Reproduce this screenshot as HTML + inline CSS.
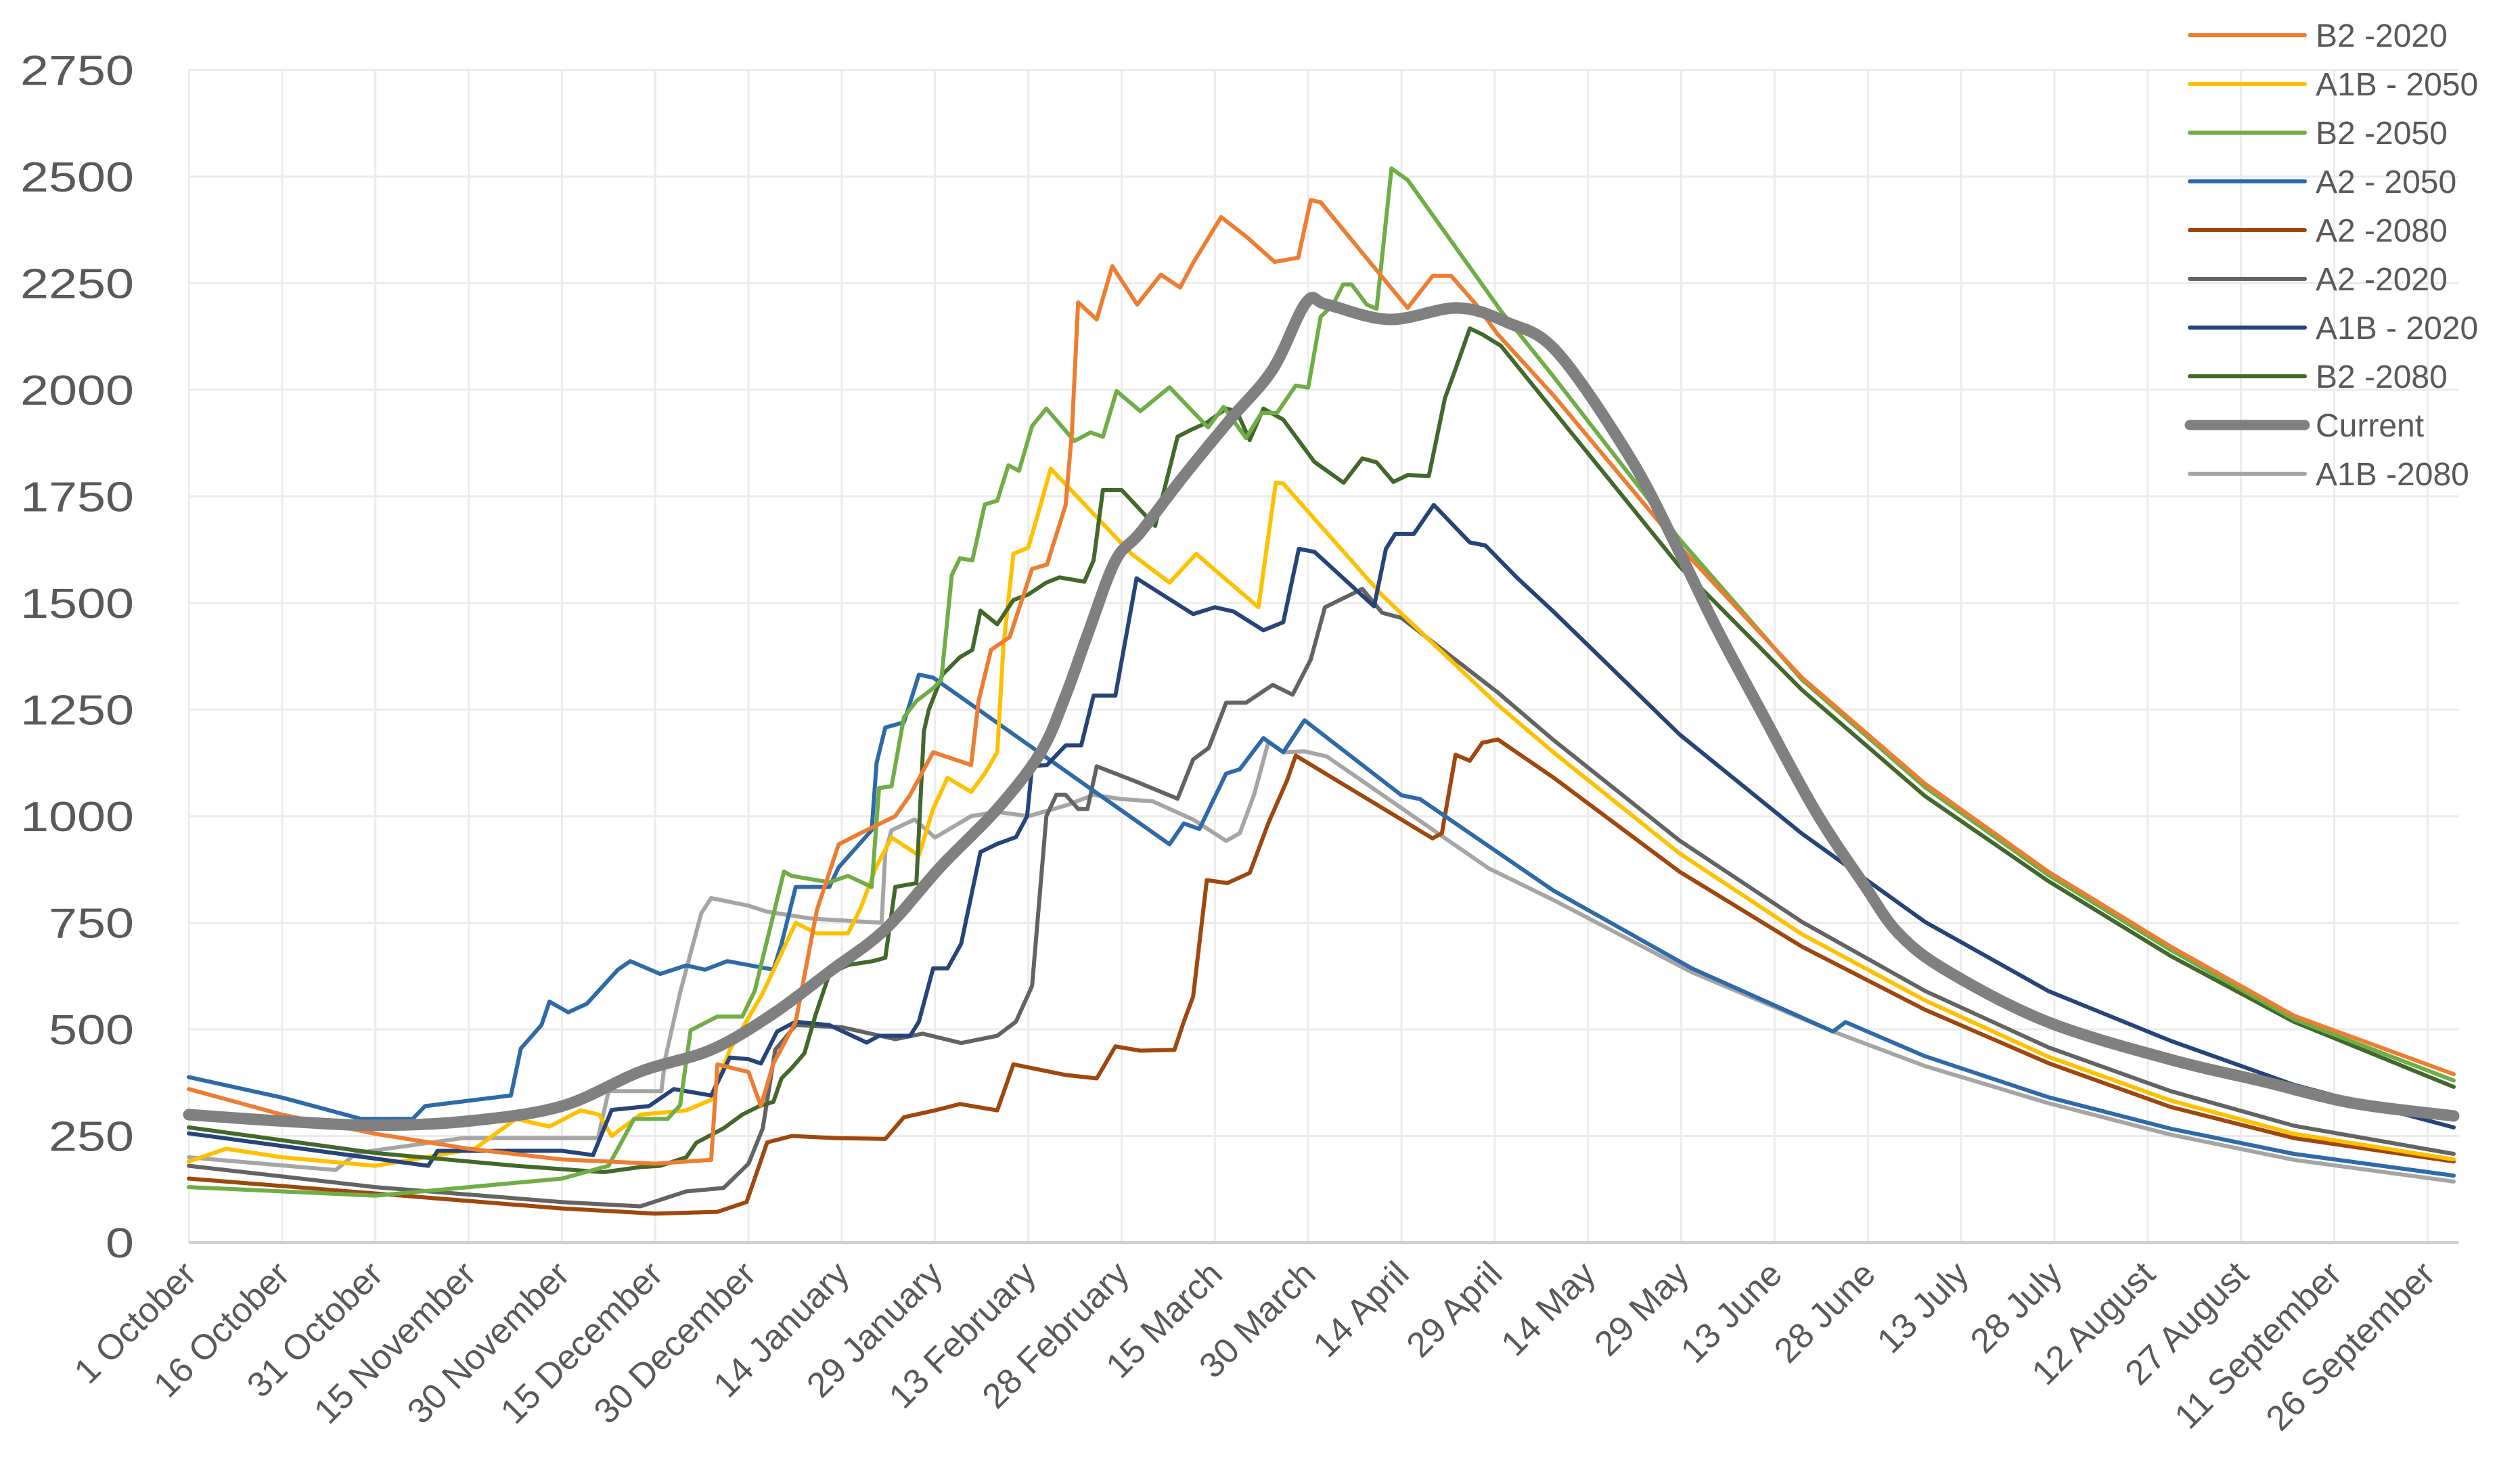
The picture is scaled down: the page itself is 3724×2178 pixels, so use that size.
<!DOCTYPE html>
<html><head><meta charset="utf-8"><style>
html,body{margin:0;padding:0;background:#fff;}
svg{display:block;font-family:"Liberation Sans",sans-serif;}
</style></head><body>
<svg id="chart" width="3724" height="2178" viewBox="0 0 3724 2178" xmlns="http://www.w3.org/2000/svg">
<rect width="3724" height="2178" fill="#fff"/>
<g id="grid"></g>
<g id="yticks"></g>
<g id="xticks"></g>
<g id="series"></g>
<g id="legend"></g>
</svg>
<script>
const yTicks = [0,250,500,750,1000,1250,1500,1750,2000,2250,2500,2750];
const xTickDays = [0,15,30,45,60,75,90,105,120,135,150,165,180,195,210,225,240,255,270,285,300,315,330,345,360];
const xTickLabels = ["1 October","16 October","31 October","15 November","30 November","15 December","30 December","14 January","29 January","13 February","28 February","15 March","30 March","14 April","29 April","14 May","29 May","13 June","28 June","13 July","28 July","12 August","27 August","11 September","26 September"];
const seriesNames = ["B2 -2020","A1B - 2050","B2 -2050","A2 - 2050","A2 -2080","A2 -2020","A1B - 2020","B2 -2080","Current","A1B -2080"];

const b2_2020_days = [0,15,30,45,60,75,84,85,90,92,94,97.6,101,104.5,108,113.6,116,119.7,125.8,127,129,132,135.6,138,141,142,143,146,148.5,152.5,156.3,159.4,161.6,166,170,174.6,178.4,180.4,182,196,200,203,207,210.5,219.5,239.7,259.4,279.2,299,318.7,338.5,364.2];
const b2_2020_vals = [360,300,255,220,195,185,194,418,400,320,420,518,780,934,960,1000,1050,1150,1120,1270,1390,1420,1580,1590,1730,1900,2205,2165,2290,2200,2270,2240,2300,2405,2360,2300,2310,2445,2440,2192,2267,2267,2200,2130,1986,1633,1325,1076,870,694,532,395];
const a1b_2050_days = [0,6,15,30,46,52.6,58,63,66,68,72.6,80,84,87,92.3,97.6,101,106,108,110.6,113,117.4,119.7,122,125.8,128,130,131,132.6,135,137,138.6,151.6,157.7,162,172,174.8,176,191.9,210.5,219.5,239.7,259.4,279.2,299,318.7,338.5,364.2];
const a1b_2050_vals = [190,220,200,180,220,290,272,310,300,250,300,310,335,452,585,750,725,725,783,883,950,908,1017,1090,1057,1100,1150,1400,1615,1630,1731,1815,1615,1548,1615,1490,1782,1780,1518,1261,1149,913,723,568,436,333,255,195];
const b2_2050_days = [0,30,45,60,67.5,71.6,77,79,80.7,85,89,91,95.7,96.9,103,106,109.8,111,113,115,117,119.7,121,122.7,124,126,128,130,131.8,133.5,135.6,137.9,142.4,145,147,149.2,153,157.7,163.9,166.4,170,172.5,175,178,180,182,184,185.6,187,189.4,191,193.4,196,211,219.5,239.7,259.4,279.2,299,318.7,338.5,364.2];
const b2_2050_vals = [130,110,130,150,180,290,290,322,498,530,530,590,870,860,845,860,834,1066,1070,1232,1270,1300,1320,1566,1605,1600,1731,1740,1823,1810,1915,1956,1880,1900,1890,1997,1950,2006,1912,1960,1887,1946,1946,2010,2005,2171,2200,2247,2247,2200,2190,2519,2492,2185,2030,1650,1320,1068,862,686,524,380];
const a2_2050_days = [0,15,27.7,36,38,51.8,53.4,56.7,58,61,64,69,71,75.8,80,83,86.6,94,95.3,97.6,103,104.5,109.8,110.6,112,115,117.4,119.7,157.7,160,162.5,166.8,169,172.8,176,179.4,195,198,219.5,241.7,264.4,266.4,279.2,299,318.7,338.5,364.2];
const a2_2050_vals = [388,340,290,290,320,345,455,510,565,540,560,640,660,630,650,640,660,640,700,834,834,880,967,1125,1208,1220,1332,1325,934,983,970,1100,1110,1183,1150,1225,1049,1040,825,643,495,517,437,341,267,208,157];
const a2_2080_days = [0,30,60,75,85,89.7,93,97,104,112,115,120,124,130,132.6,141,146,149,153,158.5,160,161.5,163.7,167,170.6,173.6,176.6,178,200,201.5,203.7,206,208,210.5,219.5,239.7,259.4,279.2,299,318.7,338.5,364.2];
const a2_2080_vals = [150,115,80,68,72,95,235,250,245,243,294,310,325,310,418,393,385,460,450,452,518,577,850,843,867,984,1084,1142,948,960,1144,1130,1172,1180,1090,870,694,546,421,318,245,190];
const a2_2020_days = [0,30,60,72.6,80,86,90,92.3,94.3,97.6,105,113.6,118,124.2,130,133,135.6,137.9,139.5,141,143,144.5,146,152,159,161.5,164,166.8,170,174.3,177.5,180.4,182.7,188.7,191.9,195,210.5,219.5,239.7,259.4,279.2,299,318.7,338.5,364.2];
const a2_2020_vals = [180,130,95,85,120,128,185,268,452,510,505,477,490,468,485,518,602,1000,1050,1050,1017,1017,1117,1083,1041,1133,1160,1266,1266,1308,1285,1367,1490,1533,1477,1465,1290,1178,943,752,590,458,355,274,208];
const a1b_2020_days = [0,38.5,40,60,65,68,74,78,84,87,90,92,94.6,97.6,103,109,111,116,117.4,119.7,122,124.2,127.3,130,133,134.8,135.6,138,141,143.5,145.5,149,152.4,161.5,165,168,172.8,176,178.5,181,190.6,192.5,194,197,200.2,206,208.5,213.6,219.5,239.7,259.4,279.2,299,318.7,338.5,364.2];
const a1b_2020_vals = [256,180,215,215,205,311,320,360,345,434,430,420,495,518,510,469,485,485,518,643,643,701,916,935,951,1000,1117,1120,1166,1166,1283,1283,1558,1474,1490,1480,1436,1455,1627,1620,1492,1627,1662,1662,1730,1642,1635,1559,1479,1192,959,752,590,473,370,270];
const b2_2080_days = [0,30,52.6,66.7,72.6,75.8,80,81.6,86,89,91.6,94,95.3,97,99,100.8,103,106,110,112,113.6,117,118.2,119,121.2,124,126,127.3,130,132.6,135,137.9,140,144,145.5,147,150,155.4,159,161,163.7,166.8,168.5,170.6,172.8,176,181,185.7,188.7,191,193.7,196,199.4,202,203.7,206,208,211,219.5,239.7,259.4,279.2,299,318.7,338.5,364.2];
const b2_2080_vals = [270,210,180,165,177,180,200,234,268,300,319,330,385,410,444,535,630,651,660,668,834,843,1199,1250,1332,1373,1390,1482,1450,1507,1520,1548,1560,1550,1600,1765,1765,1681,1890,1905,1923,1956,1950,1882,1956,1930,1831,1782,1839,1830,1784,1800,1798,1981,2049,2144,2130,2103,1950,1586,1296,1047,848,672,518,365];
const current_days = [0,15,30,45,60,72.6,84,93.8,103,112,121,130,137,141,144.7,149,153,160,167.5,174.3,179.7,183,193,204,212,220,231.8,239.7,245.6,252.6,261.4,269.3,275,283,299,318.7,333.5,348,364.2];
const current_vals = [300,285,275,285,320,401,452,535,635,735,883,1017,1150,1283,1433,1599,1665,1798,1931,2048,2205,2200,2165,2192,2158,2089,1840,1619,1443,1252,1016,841,724,635,517,429,378,327,297];
const a1b_2080_days = [0,23.6,27,44,65.8,67.5,76,76.6,79,82.4,84,90,93,100,111.4,112,113,116.7,120,125.8,130,135,141,145.5,150,155,161.5,166.8,169,171.3,173.6,176,179.4,183,209,219.5,241.7,264.4,279.2,299,318.7,338.5,364.2];
const a1b_2080_vals = [200,170,210,245,245,355,355,431,586,772,808,790,776,760,750,916,967,992,950,1000,1010,1000,1025,1050,1040,1035,992,942,960,1050,1174,1150,1152,1140,878,803,634,495,414,327,253,194,143];

const NS = "http://www.w3.org/2000/svg";
const X0 = 279, PXD = 9.19, Y0 = 1836, PXV = 0.63;
function xs(d){ return X0 + d*PXD; }
function ys(v){ return Y0 - v*PXV; }
function mk(tag, attrs, parent){
  const e = document.createElementNS(NS, tag);
  for (const k in attrs) e.setAttribute(k, attrs[k]);
  parent.appendChild(e); return e;
}
const grid = document.getElementById('grid');
const yg = document.getElementById('yticks');
const xg = document.getElementById('xticks');
yTicks.forEach(v => {
  if (v > 0) {
    const l = mk('line', {x1: X0, x2: xs(365), y1: ys(v), y2: ys(v), stroke: '#ebebeb', 'stroke-width': 3}, grid);
    
    
  }
  const t = mk('text', {x: 198, y: ys(v) + 22, 'text-anchor': 'end', 'font-size': 62, fill: '#595959', textLength: 42*String(v).length, lengthAdjust: 'spacingAndGlyphs'}, yg);
  t.textContent = v;
  
  
});
xTickDays.forEach((d, i) => {
  const l = mk('line', {x1: xs(d), x2: xs(d), y1: ys(2750), y2: Y0, stroke: '#ebebeb', 'stroke-width': 3}, grid);
  
  
  const t = mk('text', {x: xs(d) + 14, y: Y0 + 50, 'text-anchor': 'end', 'font-size': 52, fill: '#595959', transform: 'rotate(-45 ' + (xs(d) + 14) + ' ' + (Y0 + 50) + ')'}, xg);
  t.textContent = xTickLabels[i];
  
  
});
const axis = mk('line', {x1: X0, x2: xs(365), y1: Y0, y2: Y0, stroke: '#d0d0d0', 'stroke-width': 4}, xg);



const seriesDays = [b2_2020_days,a1b_2050_days,b2_2050_days,a2_2050_days,a2_2080_days,a2_2020_days,a1b_2020_days,b2_2080_days,current_days,a1b_2080_days];
const seriesVals = [b2_2020_vals,a1b_2050_vals,b2_2050_vals,a2_2050_vals,a2_2080_vals,a2_2020_vals,a1b_2020_vals,b2_2080_vals,current_vals,a1b_2080_vals];
const colors = ["#ed7d31","#ffc000","#70ad47","#2e6aa8","#9e480e","#636363","#264478","#43682b","#808080","#a5a5a5"];
const widths = [6,6,6,6,6,6,6,6,17,6];
const order = [9,5,4,3,1,6,7,2,0,8];
function smoothPath(P){
  let d = 'M' + P[0][0].toFixed(1) + ',' + P[0][1].toFixed(1);
  for (let i = 0; i < P.length - 1; i++) {
    const p0 = P[Math.max(0, i-1)], p1 = P[i], p2 = P[i+1], p3 = P[Math.min(P.length-1, i+2)];
    const c1x = p1[0] + (p2[0]-p0[0])/6, c1y = p1[1] + (p2[1]-p0[1])/6;
    const c2x = p2[0] - (p3[0]-p1[0])/6, c2y = p2[1] - (p3[1]-p1[1])/6;
    d += ' C' + c1x.toFixed(1) + ',' + c1y.toFixed(1) + ' ' + c2x.toFixed(1) + ',' + c2y.toFixed(1) + ' ' + p2[0].toFixed(1) + ',' + p2[1].toFixed(1);
  }
  return d;
}
const sg = document.getElementById('series');
order.forEach(i => {
  const P = seriesDays[i].map((d, j) => [xs(d), ys(seriesVals[i][j])]);
  let p;
  if (i === 8) {
    p = mk('path', {d: smoothPath(P), fill: 'none', stroke: colors[i], 'stroke-width': widths[i], 'stroke-linejoin': 'round', 'stroke-linecap': 'round'}, sg);
  } else {
    p = mk('polyline', {points: P.map(q => q[0].toFixed(1) + ',' + q[1].toFixed(1)).join(' '), fill: 'none', stroke: colors[i], 'stroke-width': widths[i], 'stroke-linejoin': 'round', 'stroke-linecap': 'round'}, sg);
  }
  
  
});
const lg = document.getElementById('legend');
seriesNames.forEach((n, i) => {
  const cy = 52 + i*72;
  const g = mk('g', {}, lg);
  
  
  mk('line', {x1: 3236, x2: 3406, y1: cy, y2: cy, stroke: colors[i], 'stroke-width': widths[i] === 17 ? 15 : 6, 'stroke-linecap': 'round'}, g);
  const t = mk('text', {x: 3422, y: cy + 17, 'font-size': 48, fill: '#595959'}, g);
  t.textContent = n;
});
</script>
</body></html>
